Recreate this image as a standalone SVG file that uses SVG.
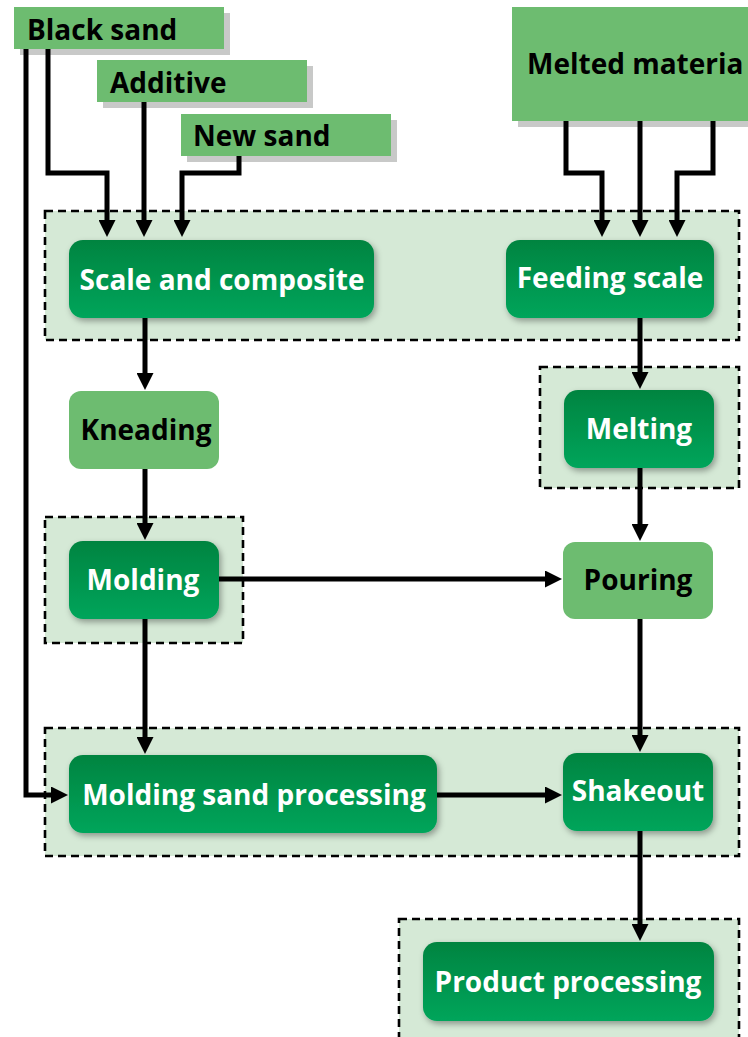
<svg xmlns="http://www.w3.org/2000/svg" width="748" height="1037" viewBox="0 0 748 1037">
<style>
.grp{fill:#d5e9d6;stroke:#000;stroke-width:2.6;stroke-dasharray:8 5}
.dark{fill:url(#dg);filter:url(#sh)}
.light{fill:#6dbc70}
.inp{fill:#6dbc70}
.ish{fill:#c8c9c8}
.tw{font-family:"Open Sans","Liberation Sans",sans-serif;font-weight:700;font-size:28px;fill:#fff;text-anchor:middle}
.tb{font-family:"Open Sans","Liberation Sans",sans-serif;font-weight:700;font-size:28px;fill:#000;text-anchor:middle}
.ti{font-family:"Open Sans","Liberation Sans",sans-serif;font-weight:700;font-size:28px;fill:#000}
.ln{fill:none;stroke:#000;stroke-width:5;marker-end:url(#ah)}
</style>
<defs>
<linearGradient id="dg" x1="0" y1="0" x2="0" y2="1">
<stop offset="0" stop-color="#008440"/>
<stop offset="1" stop-color="#00a55b"/>
</linearGradient>
<filter id="sh" x="-10%" y="-10%" width="130%" height="140%">
<feDropShadow dx="2" dy="3" stdDeviation="3" flood-color="#000" flood-opacity="0.35"/>
</filter>
<marker id="ah" markerUnits="userSpaceOnUse" markerWidth="17" markerHeight="17" refX="7" refY="8.5" orient="auto">
<path d="M0,0 L17,8.5 L0,17 z" fill="#000"/>
</marker>
</defs>
<rect width="748" height="1037" fill="#fff"/>

<g id="group-top"><rect class="grp" x="45" y="211" width="694" height="129"/></g>
<g id="group-melting"><rect class="grp" x="540" y="367" width="199" height="121"/></g>
<g id="group-molding"><rect class="grp" x="45" y="517" width="198" height="126"/></g>
<g id="group-bottom"><rect class="grp" x="45" y="728" width="694" height="128"/></g>
<g id="group-product"><rect class="grp" x="399" y="919" width="340" height="130"/></g>

<g id="black-sand">
<rect class="ish" x="20" y="13" width="210" height="42"/>
<rect class="inp" x="14" y="7" width="210" height="42"/>
<text class="ti" x="27" y="40">Black sand</text>
</g>
<g id="additive">
<rect class="ish" x="103" y="66" width="210" height="42"/>
<rect class="inp" x="97" y="60" width="210" height="42"/>
<text class="ti" x="110" y="93">Additive</text>
</g>
<g id="new-sand">
<rect class="ish" x="187" y="120" width="210" height="42"/>
<rect class="inp" x="181" y="114" width="210" height="42"/>
<text class="ti" x="193" y="146">New sand</text>
</g>
<g id="melted-material">
<rect class="ish" x="518" y="13" width="240" height="114"/>
<rect class="inp" x="512" y="7" width="240" height="114"/>
<text class="ti" x="527" y="74">Melted materia</text>
</g>

<g id="connectors">
<path class="ln" d="M48,49 V173 H107 V227"/>
<path class="ln" d="M144,102 V227"/>
<path class="ln" d="M239,156 V173 H182 V227"/>
<path class="ln" d="M566,121 V173 H602 V227"/>
<path class="ln" d="M640,121 V227"/>
<path class="ln" d="M713,121 V173 H677 V227"/>
<path class="ln" d="M26,49 V795 H58"/>
<path class="ln" d="M145,318 V380"/>
<path class="ln" d="M145,469 V530"/>
<path class="ln" d="M640,318 V379"/>
<path class="ln" d="M640,468 V531"/>
<path class="ln" d="M219,579 H552"/>
<path class="ln" d="M145,619 V744"/>
<path class="ln" d="M640,619 V742"/>
<path class="ln" d="M437,795 H552"/>
<path class="ln" d="M640,831 V931"/>
</g>

<g id="scale-composite">
<rect class="dark" x="69" y="240" width="305" height="78" rx="14"/>
<text class="tw" x="222" y="290">Scale and composite</text>
</g>
<g id="feeding-scale">
<rect class="dark" x="506" y="240" width="208" height="78" rx="14"/>
<text class="tw" x="610" y="288">Feeding scale</text>
</g>
<g id="kneading">
<rect class="light" x="69" y="391" width="150" height="78" rx="12"/>
<text class="tb" x="146" y="440">Kneading</text>
</g>
<g id="melting">
<rect class="dark" x="564" y="390" width="150" height="78" rx="14"/>
<text class="tw" x="639" y="439">Melting</text>
</g>
<g id="molding">
<rect class="dark" x="69" y="541" width="150" height="78" rx="14"/>
<text class="tw" x="143" y="590">Molding</text>
</g>
<g id="pouring">
<rect class="light" x="563" y="542" width="150" height="77" rx="12"/>
<text class="tb" x="638" y="590">Pouring</text>
</g>
<g id="molding-sand-processing">
<rect class="dark" x="69" y="755" width="368" height="78" rx="14"/>
<text class="tw" x="254" y="805">Molding sand processing</text>
</g>
<g id="shakeout">
<rect class="dark" x="563" y="753" width="150" height="78" rx="14"/>
<text class="tw" x="638" y="801">Shakeout</text>
</g>
<g id="product-processing">
<rect class="dark" x="423" y="942" width="291" height="79" rx="14"/>
<text class="tw" x="568" y="992">Product processing</text>
</g>
</svg>
